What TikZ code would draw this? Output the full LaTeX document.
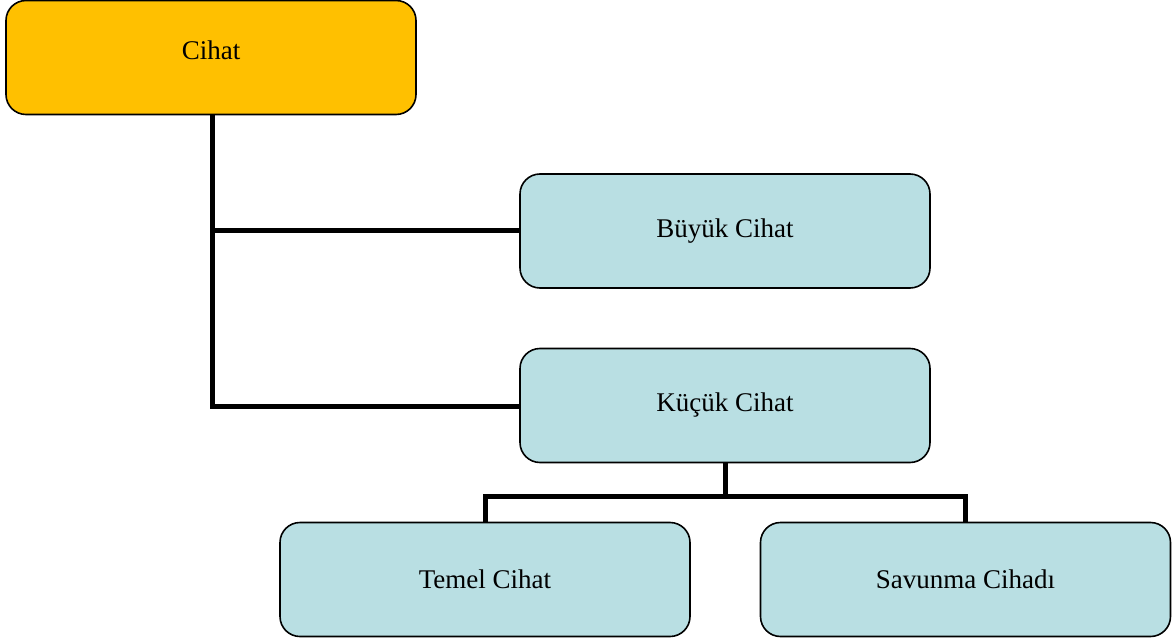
\documentclass[tikz,border=0pt]{standalone}
\usepackage{fontspec}
\setmainfont{Liberation Serif}
\definecolor{gold}{HTML}{FFC000}
\definecolor{paleblue}{HTML}{B9DFE3}
\begin{document}
\begin{tikzpicture}[x=1pt,y=-1pt,
  box/.style={draw=black, line width=1.6pt, rounded corners=20pt, minimum width=410pt, minimum height=114pt, font=\fontsize{27}{32}\selectfont, align=center},
  bluebox/.style={box, fill=paleblue},
  goldbox/.style={box, fill=gold},
  conn/.style={line width=5pt}]
\useasboundingbox (0,0) rectangle (1174,644);
\node[goldbox, text depth=14pt] (cihat) at (211,57.5) {Cihat};
\node[bluebox] (buyuk) at (725,231) {Büyük Cihat};
\node[bluebox] (kucuk) at (725,405.5) {Küçük Cihat};
\node[bluebox] (temel) at (485,579.5) {Temel Cihat};
\node[bluebox] (savunma) at (965.5,579.5) {Savunma Cihadı};
\coordinate (j1) at (212,231);
\coordinate (j2) at (212,406);
\draw[conn] (cihat.south -| j1) -- (j2) -- (kucuk.west |- j2);
\draw[conn] (j1) -- (buyuk.west |- j1);
\coordinate (k) at (725,496);
\draw[conn] (kucuk.south) -- (k);
\draw[conn] (temel.north) -- (temel.north |- k) -- (savunma.north |- k) -- (savunma.north);
\end{tikzpicture}
\end{document}
